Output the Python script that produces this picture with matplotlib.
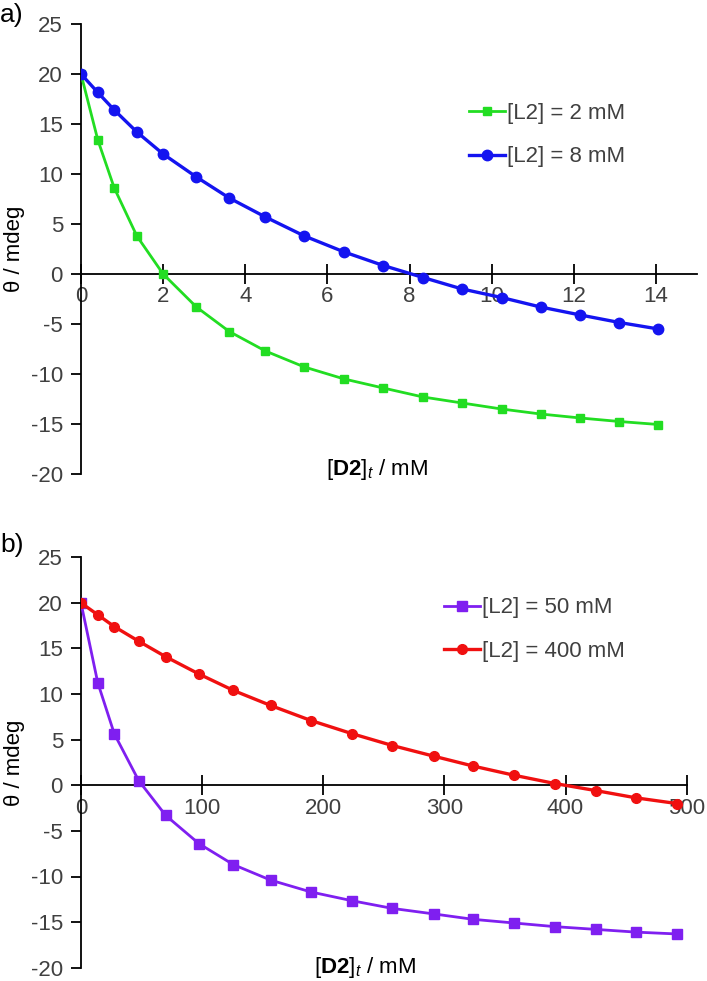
import matplotlib
matplotlib.use('Agg')
import matplotlib.pyplot as plt

plt.rcParams['font.family'] = ['Liberation Sans', 'DejaVu Sans']
plt.rcParams['mathtext.fontset'] = 'custom'
plt.rcParams['mathtext.rm'] = 'Liberation Sans'
plt.rcParams['mathtext.bf'] = 'Liberation Sans:bold'
plt.rcParams['mathtext.it'] = 'Liberation Sans:italic'
plt.rcParams['axes.unicode_minus'] = False

# panel a data
xa = [0, 0.41, 0.81, 1.36, 2.0, 2.81, 3.61, 4.49, 5.44, 6.41, 7.36, 8.33, 9.28, 10.24, 11.19, 12.16, 13.11, 14.06]
green_2mM = [20, 13.4, 8.6, 3.8, 0, -3.3, -5.75, -7.7, -9.3, -10.5, -11.4, -12.3, -12.9, -13.5, -14.0, -14.4, -14.75, -15.05]
blue_8mM = [20, 18.15, 16.4, 14.2, 12.0, 9.7, 7.6, 5.7, 3.8, 2.2, 0.85, -0.35, -1.5, -2.35, -3.3, -4.1, -4.85, -5.5]

# panel b data
xb = [0, 13.8, 27.5, 47.6, 69.9, 97.4, 125.8, 156.6, 189.9, 223.5, 257.1, 291, 324, 357.6, 391.4, 425, 458.3, 491.9]
purple_50mM = [20, 11.27, 5.64, 0.52, -3.3, -6.4, -8.7, -10.4, -11.7, -12.65, -13.5, -14.1, -14.7, -15.1, -15.5, -15.8, -16.1, -16.3]
red_400mM = [20, 18.7, 17.4, 15.8, 14.1, 12.2, 10.4, 8.75, 7.1, 5.67, 4.36, 3.2, 2.1, 1.1, 0.19, -0.58, -1.38, -2.0]

tick_color = '#404040'
fs = 16

fig = plt.figure(figsize=(7.07, 9.81), dpi=100)
ax1 = fig.add_axes([81/707, 1-474/981, (697-81)/707, (474-24)/981])
ax2 = fig.add_axes([81/707, 1-967.7/981, (686.7-81)/707, (967.7-557.3)/981])


def style(ax, xmax, xstep):
    ax.set_ylim(-20, 25)
    ax.set_xlim(0, xmax)
    ax.set_yticks(range(-20, 26, 5))
    ax.set_xticks(range(0, int(xmax) + 1, xstep))
    ax.spines['top'].set_visible(False)
    ax.spines['right'].set_visible(False)
    ax.spines['bottom'].set_position(('data', 0))
    ax.spines['left'].set_linewidth(1.3)
    ax.spines['bottom'].set_linewidth(1.3)
    ax.tick_params(axis='y', direction='out', length=7, width=1.3, labelsize=fs, labelcolor=tick_color, pad=6)
    ax.tick_params(axis='x', direction='inout', length=14, width=1.3, labelsize=fs, labelcolor=tick_color, pad=2)
    ax.set_ylabel('θ / mdeg', fontsize=fs, labelpad=4)
    ax.patch.set_alpha(0)


ax1.plot(xa, green_2mM, color='#22dd22', marker='s', markersize=6, lw=2, label='[L2] = 2 mM', zorder=3)
ax1.plot(xa, blue_8mM, color='#1414f0', marker='o', markersize=7.5, lw=2.4, label='[L2] = 8 mM', zorder=3)
style(ax1, 15, 2)
ax1.text(7.2, -18.3, r'$[\mathbf{D2}]_t$ / mM', fontsize=fs, ha='center', va='top')
ax1.legend(loc='upper left', bbox_to_anchor=(0.616, 0.844), frameon=False, fontsize=fs, borderaxespad=0,
           handlelength=1.6, handletextpad=0.1, labelspacing=1.0, labelcolor=tick_color)

ax2.plot(xb, purple_50mM, color='#7f1ff0', marker='s', markersize=6.5, lw=2, label='[L2] = 50 mM', zorder=3)
ax2.plot(xb, red_400mM, color='#f01010', marker='o', markersize=7, lw=2.4, label='[L2] = 400 mM', zorder=3)
style(ax2, 500, 100)
ax2.text(234, -18.6, r'$[\mathbf{D2}]_t$ / mM', fontsize=fs, ha='center', va='top')
ax2.legend(loc='upper left', bbox_to_anchor=(0.585, 0.924), frameon=False, fontsize=fs, borderaxespad=0,
           handlelength=1.6, handletextpad=0.1, labelspacing=1.0, labelcolor=tick_color)

fig.text(0.0, 1-15/981, 'a)', fontsize=19, va='center')
fig.text(0.0, 1-545/981, 'b)', fontsize=19, va='center')

fig.savefig('out.png', dpi=100)
